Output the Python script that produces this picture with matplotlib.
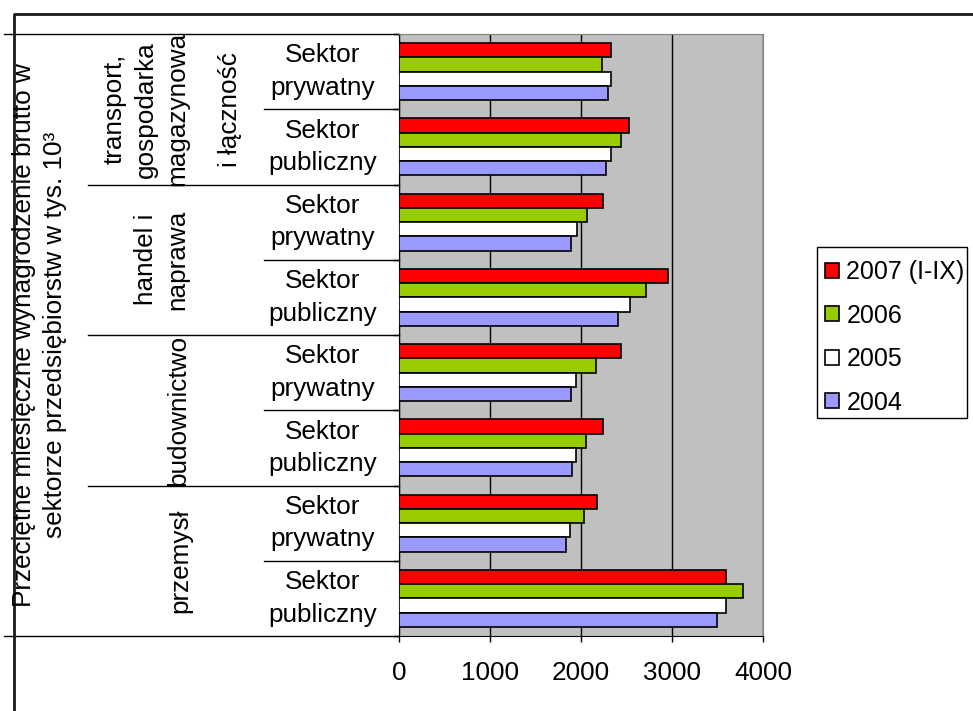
import numpy as np
import matplotlib
matplotlib.use('Agg')
import matplotlib.pyplot as plt
from matplotlib.transforms import blended_transform_factory
from matplotlib.lines import Line2D
from matplotlib.patches import Rectangle

plt.rcParams['font.family'] = ['Liberation Sans', 'DejaVu Sans']

# Categories from top to bottom
sectors = ['Sektor\nprywatny', 'Sektor\npubliczny'] * 4
group_labels = ['transport,\ngospodarka\nmagazynowa', 'handel i\nnaprawa', 'budownictwo', 'przemysł']
extra_label = 'i łączność'

series = ['2007 (I-IX)', '2006', '2005', '2004']
v2007 = [2330, 2525, 2240, 2960, 2435, 2240, 2175, 3595]
v2006 = [2235, 2435, 2065, 2715, 2170, 2060, 2035, 3775]
v2005 = [2325, 2325, 1955, 2540, 1950, 1950, 1880, 3590]
v2004 = [2300, 2280, 1885, 2410, 1885, 1905, 1840, 3490]
values = [v2007, v2006, v2005, v2004]
colors = ['#FF0000', '#99CC00', '#FFFFFF', '#9999FF']

FS = 18.8
LS = 1.45

W, H = 973, 711
fig = plt.figure(figsize=(W / 100, H / 100), dpi=100)

# plot area in pixels
x0, x1, y0, y1 = 399, 763, 34, 636
ax = fig.add_axes([x0 / W, 1 - y1 / H, (x1 - x0) / W, (y1 - y0) / H])
ax.set_facecolor('#C0C0C0')

n = len(sectors)
y = np.arange(n)
h = 0.19
for k, (vals, c, lab) in enumerate(zip(values, colors, series)):
    ax.barh(y + (k - 1.5) * h, vals, height=h, color=c, edgecolor='black',
            linewidth=1.2, label=lab, zorder=3)

ax.set_ylim(n - 0.5, -0.5)
ax.set_xlim(0, 4000)
ax.set_xticks([0, 1000, 2000, 3000, 4000])
ax.tick_params(axis='x', direction='out', length=4, width=1, pad=14, labelsize=FS)
ax.xaxis.grid(True, color='black', linewidth=1)
ax.set_axisbelow(True)

ax.set_yticks([])
ax.set_yticks(np.arange(n + 1) - 0.5, minor=True)
ax.tick_params(axis='y', which='minor', direction='out', length=4, width=1)

for s in ['top', 'right']:
    ax.spines[s].set_color('#808080')
ax.spines['left'].set_color('black')
ax.spines['bottom'].set_color('black')

# multi-level category labels
tr = blended_transform_factory(fig.transFigure, ax.transData)
ytr = ax.get_yaxis_transform()

for i, lab in enumerate(sectors):
    ax.text((323 - x0) / (x1 - x0), i, lab, transform=ytr, ha='center', va='center',
            fontsize=FS, linespacing=LS)

def hline(xa, xb, yv):
    ax.add_line(Line2D([xa / W, xb / W], [yv, yv], transform=tr, color='black',
                       linewidth=1, clip_on=False))

for i in range(4):
    hline(264, x0, 2 * i + 0.5)
for i in range(1, 4):
    hline(88, x0, 2 * i - 0.5)
hline(4, x0, -0.5)
hline(4, x0, n - 0.5)

group_x = [146, 161.5, 178, 180]
for i, (lab, gx) in enumerate(zip(group_labels, group_x)):
    ax.text(gx / W, 2 * i + 0.5, lab, transform=tr, rotation=90, ha='center',
            va='center', fontsize=FS, linespacing=1.4, multialignment='center')
ax.text(230 / W, 0.5, extra_label, transform=tr, rotation=90, ha='center',
        va='center', fontsize=FS)

fig.text(39.5 / W, 1 - 335 / H,
         'Przeciętne miesięczne wynagrodzenie brutto w\nsektorze przedsiębiorstw w tys. 10³',
         rotation=90, ha='center', va='center', fontsize=FS, linespacing=1.4,
         multialignment='center')

# chart border (top and left)
fig.add_artist(Line2D([14 / W, 14 / W, 1], [0, 1 - 14 / H, 1 - 14 / H],
                      transform=fig.transFigure, color='#1a1a1a', linewidth=2))

# legend with a hand-placed frame
leg = fig.legend(loc='upper left', bbox_to_anchor=(820 / W, 1 - 255 / H),
                 fontsize=18, frameon=False,
                 handlelength=0.55, handleheight=0.55, handletextpad=0.3,
                 labelspacing=0.78, borderpad=0.2, borderaxespad=0)
fig.add_artist(Rectangle((817 / W, 1 - 418 / H), 150 / W, 171 / H,
                         transform=fig.transFigure, facecolor='white',
                         edgecolor='black', linewidth=1, zorder=0))

fig.savefig('out.png', dpi=100)
